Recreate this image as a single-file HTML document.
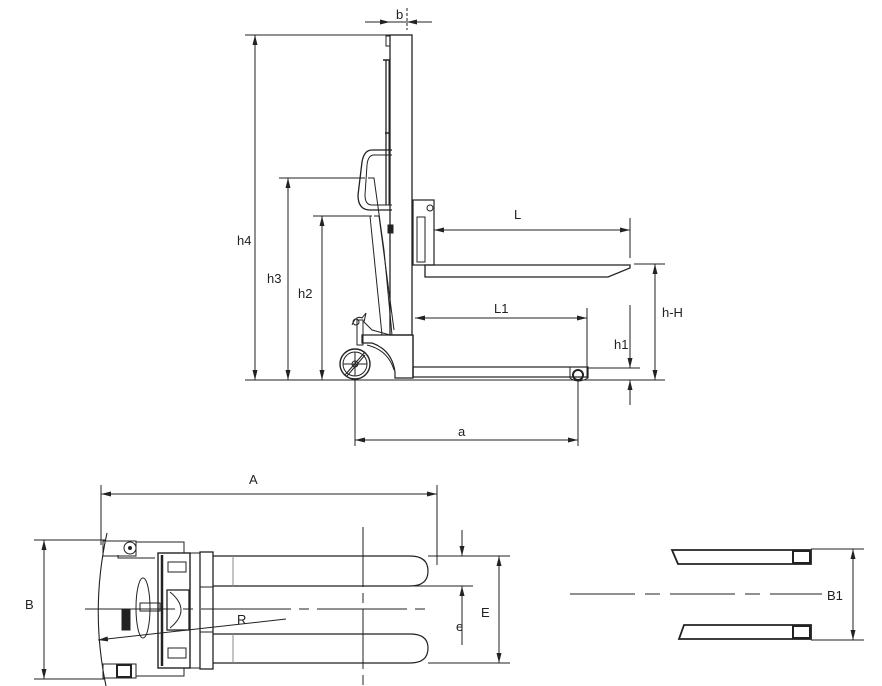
<!DOCTYPE html>
<html><head><meta charset="utf-8"><style>
html,body{margin:0;padding:0;background:#fff;}
svg{display:block;}
text{font-family:"Liberation Sans",sans-serif;font-size:13px;fill:#222;}
</style></head><body>
<svg width="882" height="686" viewBox="0 0 882 686" xmlns="http://www.w3.org/2000/svg">
<defs>
<marker id="ar" viewBox="0 0 10 6" refX="10" refY="3" markerWidth="10" markerHeight="6" orient="auto-start-reverse" markerUnits="userSpaceOnUse"><path d="M0,0.5 L10,3 L0,5.5z" fill="#222"/></marker>
</defs>
<g stroke="#222" stroke-width="1" fill="none">
<!-- ===== SIDE VIEW ===== -->
<!-- ground -->
<line x1="245" y1="380" x2="665" y2="380"/>
<!-- mast -->
<rect x="390" y="35" width="22" height="300" stroke-width="1.3"/>
<line x1="413" y1="335" x2="413" y2="378" stroke-width="1.3"/>
<rect x="386" y="36" width="4" height="10"/>
<line x1="386" y1="60" x2="386" y2="205" stroke-width="1.3"/>
<line x1="389" y1="60" x2="389" y2="205"/>
<line x1="383" y1="60" x2="390" y2="60" stroke-width="1.5"/>
<line x1="385" y1="133" x2="390" y2="133" stroke-width="1.5"/>
<!-- handle -->
<path d="M392,150 L372,150 Q364,150 362,162 L358,195 Q358,210 370,210 L392,210" stroke-width="1.3"/>
<path d="M392,155 L374,155 Q368,155 367,165 L365,195 Q365,205 372,205 L392,205"/>
<!-- cylinder -->
<path d="M368,178 L374,178 L384,250 L392,335"/>
<path d="M374,216 L379,216 L394,330"/>
<path d="M370,216 L382,335"/>
<rect x="388" y="225" width="5" height="8" fill="#222"/>
<!-- chassis -->
<path d="M362,335 L413,335 L413,378 L395,378 L395,372 Q392,350 372,343 L362,343 Z" stroke-width="1.2"/>
<rect x="357" y="320" width="6" height="25"/>
<path d="M352,325 Q356,315 362,318 L366,313 L364,322 L372,330 L390,335"/>
<circle cx="356" cy="322" r="3"/>
<path d="M367,345 Q388,350 394,370" />
<!-- rear wheel -->
<circle cx="355" cy="364" r="15" stroke-width="1.4"/>
<circle cx="355" cy="364" r="12"/>
<circle cx="355" cy="364" r="3"/>
<line x1="345" y1="375" x2="365" y2="352"/><line x1="347" y1="376" x2="365" y2="355"/>
<line x1="355" y1="352" x2="355" y2="376"/><line x1="343" y1="364" x2="367" y2="364"/>
<!-- base leg -->
<rect x="413" y="367" width="175" height="10" stroke-width="1.2"/>
<path d="M570,367 L570,378 Q578,384 588,378 L588,367"/>
<circle cx="578" cy="375" r="5" stroke-width="2"/>
<!-- carriage -->
<rect x="413" y="200" width="21" height="65" stroke-width="1.2"/>
<rect x="417" y="217" width="8" height="45"/>
<circle cx="430" cy="208" r="3"/>
<!-- fork -->
<path d="M425,265 L630,265 L630,268 L608,277 L425,277 Z" stroke-width="1.3"/>
<!-- b dimension -->
<line x1="365" y1="22" x2="390" y2="22" marker-end="url(#ar)"/>
<line x1="432" y1="22" x2="407" y2="22" marker-end="url(#ar)"/>
<line x1="390" y1="22" x2="407" y2="22"/>
<line x1="407" y1="8" x2="407" y2="30" stroke-dasharray="3,2"/>
<!-- h4 -->
<line x1="245" y1="35" x2="390" y2="35"/>
<line x1="255" y1="35" x2="255" y2="380" marker-start="url(#ar)" marker-end="url(#ar)"/>
<!-- h3 -->
<line x1="279" y1="178" x2="365" y2="178"/>
<line x1="288" y1="178" x2="288" y2="380" marker-start="url(#ar)" marker-end="url(#ar)"/>
<!-- h2 -->
<line x1="313" y1="216" x2="372" y2="216"/>
<line x1="322" y1="216" x2="322" y2="380" marker-start="url(#ar)" marker-end="url(#ar)"/>
<!-- L -->
<line x1="434" y1="230" x2="630" y2="230" marker-start="url(#ar)" marker-end="url(#ar)"/>
<line x1="630" y1="218" x2="630" y2="258"/>
<!-- h-H -->
<line x1="634" y1="264" x2="665" y2="264"/>
<line x1="655" y1="264" x2="655" y2="380" marker-start="url(#ar)" marker-end="url(#ar)"/>
<!-- L1 -->
<line x1="415" y1="318" x2="587" y2="318" marker-start="url(#ar)" marker-end="url(#ar)"/>
<line x1="587" y1="308" x2="587" y2="378"/>
<!-- h1 -->
<line x1="588" y1="368" x2="640" y2="368"/>
<line x1="630" y1="305" x2="630" y2="368" marker-end="url(#ar)"/>
<line x1="630" y1="405" x2="630" y2="380" marker-end="url(#ar)"/>
<!-- a -->
<line x1="355" y1="380" x2="355" y2="446"/>
<line x1="578" y1="380" x2="578" y2="446"/>
<line x1="355" y1="440" x2="578" y2="440" marker-start="url(#ar)" marker-end="url(#ar)"/>

<!-- ===== TOP VIEW ===== -->
<!-- A -->
<line x1="101" y1="485" x2="101" y2="545"/>
<line x1="437" y1="485" x2="437" y2="565"/>
<line x1="101" y1="494" x2="437" y2="494" marker-start="url(#ar)" marker-end="url(#ar)"/>
<!-- B -->
<line x1="34" y1="540" x2="105" y2="540"/>
<line x1="34" y1="679" x2="105" y2="679"/>
<line x1="44" y1="540" x2="44" y2="679" marker-start="url(#ar)" marker-end="url(#ar)"/>
<!-- body -->
<path d="M107,533 Q90,610 106,686" stroke-width="1.1"/>
<rect x="103" y="541" width="33" height="15"/>
<circle cx="130" cy="548" r="6"/>
<circle cx="130" cy="548" r="1.5" fill="#222"/>
<path d="M118,555 L118,558 L155,558"/>
<path d="M136,542 L184,542 L184,553"/>
<path d="M136,676 L184,676 L184,668"/>
<rect x="103" y="664" width="33" height="14"/>
<rect x="117" y="665" width="14" height="12" stroke-width="2"/>
<rect x="158" y="553" width="32" height="115" stroke-width="1.4"/>
<line x1="162" y1="555" x2="162" y2="666" stroke-width="2.5"/>
<rect x="190" y="553" width="10" height="115"/>
<rect x="200" y="552" width="13" height="117" stroke-width="1.3"/>
<line x1="200" y1="587" x2="213" y2="587"/><line x1="200" y1="632" x2="213" y2="632"/>
<rect x="167" y="590" width="22" height="40" stroke-width="1.3"/>
<path d="M170,592 Q192,610 170,628"/>
<rect x="168" y="562" width="18" height="10"/>
<rect x="168" y="648" width="18" height="10"/>
<ellipse cx="143" cy="608" rx="7" ry="30"/>
<rect x="140" y="603" width="20" height="8"/>
<rect x="122" y="609" width="8" height="21" fill="#222"/>
<!-- forks -->
<path d="M213,556 L410,556 Q428,556 428,571 Q428,586 410,586 L213,586" stroke-width="1.2"/>
<path d="M213,634 L410,634 Q428,634 428,648 Q428,663 410,663 L213,663" stroke-width="1.2"/>
<line x1="233" y1="556" x2="233" y2="586" stroke="#888"/>
<line x1="233" y1="634" x2="233" y2="663" stroke="#888"/>
<!-- centerline -->
<line x1="85" y1="609" x2="432" y2="609" stroke-dasharray="90,8,10,8"/>
<line x1="363" y1="527" x2="363" y2="686" stroke-dasharray="60,6,10,6"/>
<!-- R -->
<line x1="98" y1="640" x2="286" y2="619" marker-start="url(#ar)"/>
<!-- e -->
<line x1="428" y1="556" x2="473" y2="556"/>
<line x1="410" y1="586" x2="473" y2="586"/>
<line x1="462" y1="530" x2="462" y2="556" marker-end="url(#ar)"/>
<line x1="462" y1="645" x2="462" y2="586" marker-end="url(#ar)"/>
<!-- E -->
<line x1="428" y1="556" x2="510" y2="556"/>
<line x1="428" y1="663" x2="510" y2="663"/>
<line x1="499" y1="556" x2="499" y2="663" marker-start="url(#ar)" marker-end="url(#ar)"/>

<!-- ===== RIGHT SMALL VIEW ===== -->
<path d="M672,550 L811,550 L811,564 L678,564 Z" stroke-width="1.8"/>
<rect x="793" y="551" width="17" height="12" stroke-width="2"/>
<path d="M684,625 L811,625 L811,639 L679,639 Z" stroke-width="1.8"/>
<rect x="793" y="626" width="17" height="12" stroke-width="2"/>
<line x1="570" y1="594" x2="822" y2="594" stroke-dasharray="65,10,15,10"/>
<line x1="811" y1="549" x2="864" y2="549"/>
<line x1="811" y1="640" x2="864" y2="640"/>
<line x1="853" y1="549" x2="853" y2="640" marker-start="url(#ar)" marker-end="url(#ar)"/>
</g>
<text x="396" y="19">b</text>
<text x="237" y="245">h4</text>
<text x="267" y="283">h3</text>
<text x="298" y="298">h2</text>
<text x="514" y="219">L</text>
<text x="662" y="317">h-H</text>
<text x="494" y="313">L1</text>
<text x="614" y="349">h1</text>
<text x="458" y="436">a</text>
<text x="249" y="484">A</text>
<text x="25" y="609">B</text>
<text x="237" y="624">R</text>
<text x="456" y="631">e</text>
<text x="481" y="617">E</text>
<text x="827" y="600">B1</text>
</svg>
</body></html>
